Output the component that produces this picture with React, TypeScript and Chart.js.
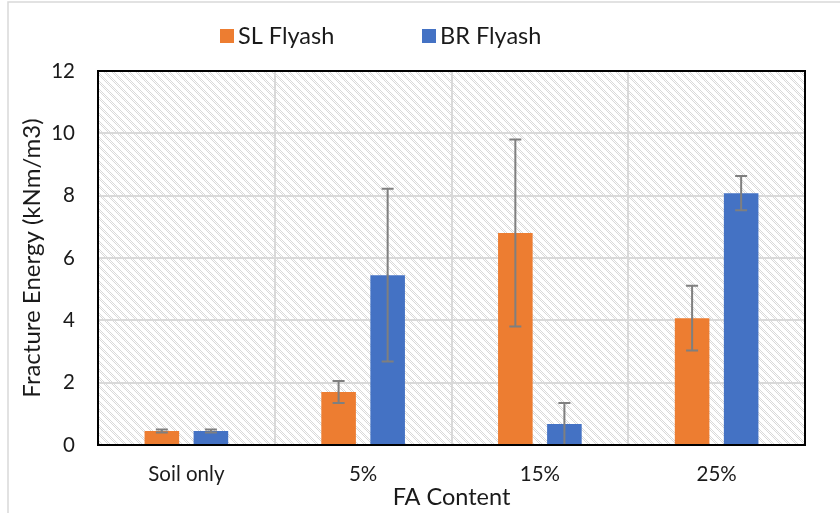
import React, { useEffect, useRef } from "react";
import { Chart, registerables } from "chart.js";

Chart.register(...registerables);

const categories = ["Soil only", "5%", "15%", "25%"];
const seriesNames = ["SL Flyash", "BR Flyash"];
const slFlyash = [0.45, 1.7, 6.8, 4.07];
const slError = [0.05, 0.35, 3.0, 1.04];
const brFlyash = [0.45, 5.45, 0.67, 8.08];
const brError = [0.05, 2.77, 0.68, 0.55];
const yMin = 0;
const yMax = 12;
const yStep = 2;
const xTitle = "FA Content";
const yTitle = "Fracture Energy (kNm/m3)";

const ORANGE = "#ED7D31";
const BLUE = "#4472C4";
const FONT = "Lato, 'Open Sans', sans-serif";

function makePattern(): CanvasPattern | string {
  const c = document.createElement("canvas");
  c.width = 8;
  c.height = 8;
  const g = c.getContext("2d");
  if (!g) return "#ffffff";
  g.fillStyle = "#ffffff";
  g.fillRect(0, 0, 8, 8);
  g.fillStyle = "#d9d9d9";
  for (let y = 0; y < 8; y++) {
    for (let x = 0; x < 8; x++) {
      const d = (((x - y) % 8) + 8) % 8;
      if (d < 4 && (x + y) % 2 === 0) g.fillRect(x, y, 1, 1);
    }
  }
  return g.createPattern(c, "repeat") || "#ffffff";
}

export default function App() {
  const ref = useRef<HTMLCanvasElement | null>(null);

  useEffect(() => {
    if (!ref.current) return;
    const pattern = makePattern();
    const errors = [slError, brError];

    const decor = {
      id: "decor",
      beforeDraw(chart: any) {
        const { ctx, chartArea: a } = chart;
        ctx.save();
        ctx.strokeStyle = "#d9d9d9";
        ctx.lineWidth = 1.5;
        ctx.beginPath();
        ctx.moveTo(8, 513);
        ctx.lineTo(8, 2);
        ctx.lineTo(840, 2);
        ctx.stroke();
        ctx.fillStyle = pattern;
        ctx.fillRect(a.left, a.top, a.right - a.left, a.bottom - a.top);
        ctx.restore();
      },
      afterDatasetsDraw(chart: any) {
        const { ctx } = chart;
        const ys = chart.scales.y;
        ctx.save();
        ctx.strokeStyle = "#7f7f7f";
        ctx.lineWidth = 2;
        chart.data.datasets.forEach((ds: any, i: number) => {
          const meta = chart.getDatasetMeta(i);
          meta.data.forEach((bar: any, j: number) => {
            const v = ds.data[j];
            const e = errors[i][j];
            const x = bar.x;
            const yt = ys.getPixelForValue(v + e);
            const yb = ys.getPixelForValue(Math.max(v - e, 0));
            ctx.beginPath();
            ctx.moveTo(x, yt);
            ctx.lineTo(x, yb);
            ctx.moveTo(x - 6, yt);
            ctx.lineTo(x + 6, yt);
            ctx.moveTo(x - 6, yb);
            ctx.lineTo(x + 6, yb);
            ctx.stroke();
          });
        });
        ctx.restore();
      },
      afterDraw(chart: any) {
        const { ctx, chartArea: a } = chart;
        ctx.save();
        ctx.strokeStyle = "#000000";
        ctx.lineWidth = 2;
        ctx.strokeRect(a.left, a.top, a.right - a.left, a.bottom - a.top);
        // legend
        const xs = [[220, 238], [422, 440]];
        ctx.font = `23.5px ${FONT}`;
        ctx.textBaseline = "middle";
        chart.data.datasets.forEach((ds: any, i: number) => {
          ctx.fillStyle = ds.backgroundColor;
          ctx.fillRect(xs[i][0], 29, 14, 14);
          ctx.fillStyle = "#1a1a1a";
          ctx.fillText(ds.label, xs[i][1], 36);
        });
        ctx.restore();
      },
    };

    const chart = new Chart(ref.current, {
      type: "bar",
      data: {
        labels: categories,
        datasets: [
          {
            label: seriesNames[0],
            data: slFlyash,
            backgroundColor: ORANGE,
            categoryPercentage: 0.555,
            barPercentage: 0.705,
          },
          {
            label: seriesNames[1],
            data: brFlyash,
            backgroundColor: BLUE,
            categoryPercentage: 0.555,
            barPercentage: 0.705,
          },
        ],
      },
      options: {
        responsive: false,
        animation: false,
        layout: { padding: { top: 71, right: 35, left: 0, bottom: 0 } },
        plugins: {
          legend: { display: false },
          tooltip: { enabled: false },
        },
        scales: {
          x: {
            grid: {
              offset: true,
              color: "#d9d9d9",
              lineWidth: 2,
              drawTicks: false,
            },
            border: { display: false },
            ticks: {
              color: "#1a1a1a",
              font: { family: FONT, size: 20.5 },
              padding: 17,
            },
            title: {
              display: true,
              text: xTitle,
              color: "#1a1a1a",
              font: { family: FONT, size: 23.5 },
              padding: { top: 0, bottom: 1 },
            },
            afterFit(scale: any) {
              scale.height = 68;
            },
          },
          y: {
            min: yMin,
            max: yMax,
            grid: { color: "#d9d9d9", lineWidth: 2, drawTicks: false },
            border: { display: false },
            ticks: {
              stepSize: yStep,
              color: "#1a1a1a",
              font: { family: FONT, size: 20.5 },
              padding: 23,
            },
            title: {
              display: true,
              text: yTitle,
              color: "#1a1a1a",
              font: { family: FONT, size: 24 },
              padding: { top: 17.5, bottom: 0 },
            },
            afterFit(scale: any) {
              scale.width = 98;
            },
          },
        },
      },
      plugins: [decor],
    });
    return () => chart.destroy();
  }, []);

  return (
    <div style={{ position: "absolute", left: 0, top: 0, width: 840, height: 513, background: "#fff" }}>
      <canvas ref={ref} width={840} height={513} style={{ display: "block" }} />
    </div>
  );
}
